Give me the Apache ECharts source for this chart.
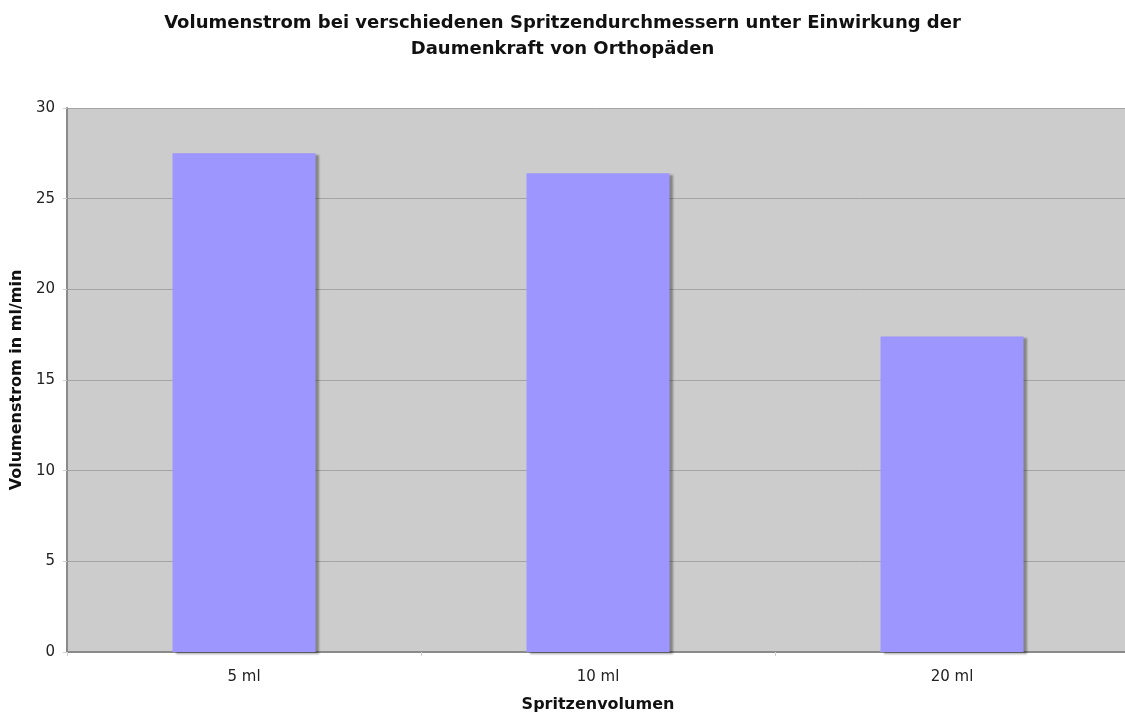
<!DOCTYPE html>
<html>
<head>
<meta charset="utf-8">
<script src="https://cdn.jsdelivr.net/npm/echarts@6/dist/echarts.min.js"></script>
<style>
  html, body { margin: 0; padding: 0; background: #ffffff; }
  #chart { width: 1125px; height: 715px; }
</style>
</head>
<body>
<div id="chart"></div>
<script>
// Syringe sizes and measured flow rates (ml/min)
const categories = ['5 ml', '10 ml', '20 ml'];
const flowRates = [27.5, 26.4, 17.4];
const yTicks = { min: 0, max: 30, interval: 5 };

const chart = echarts.init(document.getElementById('chart'));
chart.setOption({
  backgroundColor: '#ffffff',
  animation: false,
  title: {
    text: 'Volumenstrom bei verschiedenen Spritzendurchmessern unter Einwirkung der\nDaumenkraft von Orthopäden',
    left: 'center',
    top: 5,
    textStyle: {
      fontFamily: 'DejaVu Sans',
      fontWeight: 'bold',
      fontSize: 18,
      lineHeight: 26,
      color: '#111111'
    }
  },
  grid: {
    left: 67,
    right: -4,
    top: 108,
    bottom: 63,
    outerBoundsMode: 'none',
    containLabel: false,
    show: true,
    backgroundColor: '#cccccc',
    borderWidth: 0
  },
  xAxis: {
    type: 'category',
    data: categories,
    name: 'Spritzenvolumen',
    nameLocation: 'middle',
    nameGap: 45,
    nameTextStyle: {
      fontFamily: 'DejaVu Sans',
      fontWeight: 'bold',
      fontSize: 16,
      color: '#111111'
    },
    axisLine: { show: true, lineStyle: { color: '#8a8a8a', width: 2 } },
    axisTick: { show: true, length: 4, lineStyle: { color: '#d0d0d0' } },
    axisLabel: {
      fontFamily: 'DejaVu Sans',
      fontSize: 15,
      color: '#222222',
      margin: 18
    }
  },
  yAxis: {
    type: 'value',
    min: yTicks.min,
    max: yTicks.max,
    interval: yTicks.interval,
    name: 'Volumenstrom in ml/min',
    nameLocation: 'middle',
    nameGap: 38,
    nameTextStyle: {
      fontFamily: 'DejaVu Sans',
      fontWeight: 'bold',
      fontSize: 16,
      color: '#111111'
    },
    axisLine: { show: true, lineStyle: { color: '#8a8a8a', width: 2 } },
    axisTick: { show: true, length: 4, lineStyle: { color: '#d0d0d0' } },
    axisLabel: {
      fontFamily: 'DejaVu Sans',
      fontSize: 15,
      color: '#222222',
      margin: 12
    },
    splitLine: { show: true, lineStyle: { color: '#a4a4a4', width: 1 } }
  },
  series: [{
    type: 'bar',
    data: flowRates,
    barWidth: 143,
    itemStyle: {
      color: '#9e96ff',
      shadowColor: 'rgba(0,0,0,0.35)',
      shadowBlur: 2,
      shadowOffsetX: 3,
      shadowOffsetY: 2
    }
  }]
});
</script>
</body>
</html>
